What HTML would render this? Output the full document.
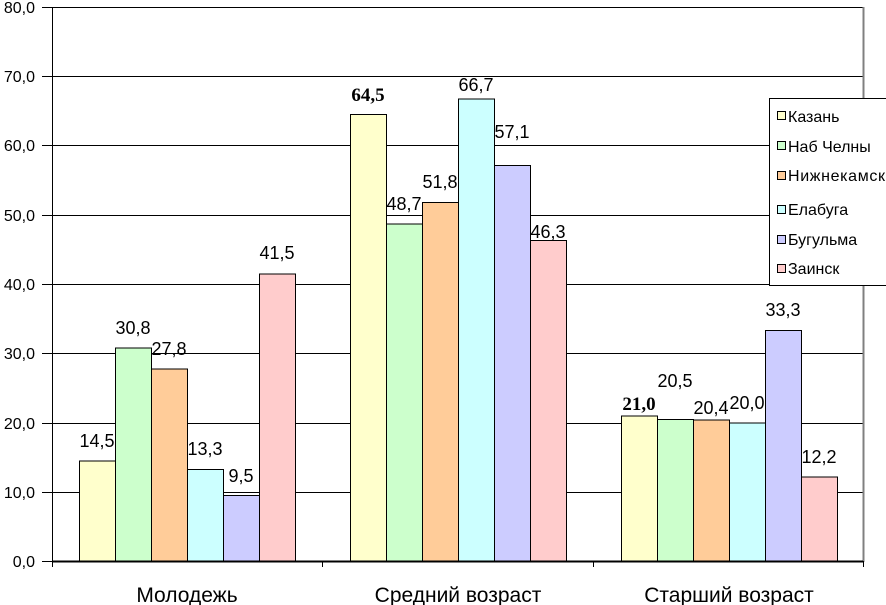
<!DOCTYPE html>
<html><head><meta charset="utf-8"><style>body{margin:0;background:#fff}svg{display:block}</style></head><body>
<svg width="886" height="605" xmlns="http://www.w3.org/2000/svg" font-family="Liberation Sans, sans-serif">
<rect width="886" height="605" fill="#fff"/>
<g stroke="#000" stroke-width="1">
<line x1="52" y1="7.5" x2="863" y2="7.5"/>
<line x1="52" y1="76.5" x2="863" y2="76.5"/>
<line x1="52" y1="145.5" x2="863" y2="145.5"/>
<line x1="52" y1="215.5" x2="863" y2="215.5"/>
<line x1="52" y1="284.5" x2="863" y2="284.5"/>
<line x1="52" y1="353.5" x2="863" y2="353.5"/>
<line x1="52" y1="423.5" x2="863" y2="423.5"/>
<line x1="52" y1="492.5" x2="863" y2="492.5"/>
</g>
<line x1="863.5" y1="7" x2="863.5" y2="562" stroke="#808080" stroke-width="2"/>
<g font-size="16" text-anchor="end" fill="#000">
<text x="35" y="13">80,0</text><text x="35" y="82">70,0</text><text x="35" y="151">60,0</text><text x="35" y="221">50,0</text><text x="35" y="290">40,0</text><text x="35" y="359">30,0</text><text x="35" y="429">20,0</text><text x="35" y="498">10,0</text><text x="35" y="567">0,0</text>
</g>
<g stroke="#000" stroke-width="1">
<line x1="42" y1="7.5" x2="52" y2="7.5"/><line x1="42" y1="76.5" x2="52" y2="76.5"/><line x1="42" y1="145.5" x2="52" y2="145.5"/><line x1="42" y1="215.5" x2="52" y2="215.5"/><line x1="42" y1="284.5" x2="52" y2="284.5"/><line x1="42" y1="353.5" x2="52" y2="353.5"/><line x1="42" y1="423.5" x2="52" y2="423.5"/><line x1="42" y1="492.5" x2="52" y2="492.5"/><line x1="42" y1="561.5" x2="52" y2="561.5"/>
</g>
<g stroke="#000" stroke-width="1">
<rect x="79.5" y="461" width="36" height="100.5" fill="#FFFFCC"/>
<rect x="115.5" y="348" width="36" height="213.5" fill="#CCFFCC"/>
<rect x="151.5" y="369" width="36" height="192.5" fill="#FFCC99"/>
<rect x="187.5" y="469.5" width="36" height="92" fill="#CCFFFF"/>
<rect x="223.5" y="495.5" width="36" height="66" fill="#CCCCFF"/>
<rect x="259.5" y="274" width="36" height="287.5" fill="#FFCCCC"/>
<rect x="350.5" y="114.5" width="36" height="447" fill="#FFFFCC"/>
<rect x="386.5" y="224" width="36" height="337.5" fill="#CCFFCC"/>
<rect x="422.5" y="202.5" width="36" height="359" fill="#FFCC99"/>
<rect x="458.5" y="99" width="36" height="462.5" fill="#CCFFFF"/>
<rect x="494.5" y="165.5" width="36" height="396" fill="#CCCCFF"/>
<rect x="530.5" y="240.5" width="36" height="321" fill="#FFCCCC"/>
<rect x="621.5" y="416" width="36" height="145.5" fill="#FFFFCC"/>
<rect x="657.5" y="419.5" width="36" height="142" fill="#CCFFCC"/>
<rect x="693.5" y="420" width="36" height="141.5" fill="#FFCC99"/>
<rect x="729.5" y="423" width="36" height="138.5" fill="#CCFFFF"/>
<rect x="765.5" y="330.5" width="36" height="231" fill="#CCCCFF"/>
<rect x="801.5" y="477" width="36" height="84.5" fill="#FFCCCC"/>
</g>
<line x1="52" y1="561.5" x2="863" y2="561.5" stroke="#000" stroke-width="2"/>
<line x1="52.5" y1="7" x2="52.5" y2="562" stroke="#000" stroke-width="1"/>
<g stroke="#000"><line x1="52.5" y1="561" x2="52.5" y2="567"/><line x1="322.5" y1="561" x2="322.5" y2="567"/><line x1="593.5" y1="561" x2="593.5" y2="567"/><line x1="863.5" y1="561" x2="863.5" y2="567"/></g>
<g font-size="18" text-anchor="middle" fill="#000">
<text x="97" y="447">14,5</text><text x="133" y="334">30,8</text><text x="169" y="355">27,8</text><text x="205" y="455">13,3</text><text x="241" y="482">9,5</text><text x="277" y="259">41,5</text>
<text x="368" y="101" font-family="Liberation Serif, serif" font-size="19" font-weight="bold">64,5</text><text x="404" y="210">48,7</text><text x="440" y="188">51,8</text><text x="476" y="91">66,7</text><text x="512" y="138">57,1</text><text x="548" y="238">46,3</text>
<text x="639" y="410" font-family="Liberation Serif, serif" font-size="19" font-weight="bold">21,0</text><text x="675" y="387">20,5</text><text x="711" y="414">20,4</text><text x="747" y="409">20,0</text><text x="783" y="316">33,3</text><text x="819" y="463">12,2</text>
</g>
<g font-size="21" text-anchor="middle" fill="#000">
<text x="187" y="602">Молодежь</text><text x="458" y="602">Средний возраст</text><text x="729" y="602">Старший возраст</text>
</g>
<rect x="769.5" y="98.5" width="120" height="187" fill="#fff" stroke="#000"/>
<g stroke="#000" stroke-width="1">
<rect x="777.5" y="111.5" width="8" height="8" fill="#FFFFCC"/>
<rect x="777.5" y="141.5" width="8" height="8" fill="#CCFFCC"/>
<rect x="777.5" y="171.5" width="8" height="8" fill="#FFCC99"/>
<rect x="777.5" y="205.5" width="8" height="8" fill="#CCFFFF"/>
<rect x="777.5" y="235.5" width="8" height="8" fill="#CCCCFF"/>
<rect x="777.5" y="264.5" width="8" height="8" fill="#FFCCCC"/>
</g>
<g font-size="16" fill="#000">
<text x="788" y="122">Казань</text><text x="788" y="152">Наб Челны</text><text x="788" y="181" textLength="97">Нижнекамск</text><text x="788" y="215">Елабуга</text><text x="788" y="245">Бугульма</text><text x="788" y="274">Заинск</text>
</g>
</svg>
</body></html>
